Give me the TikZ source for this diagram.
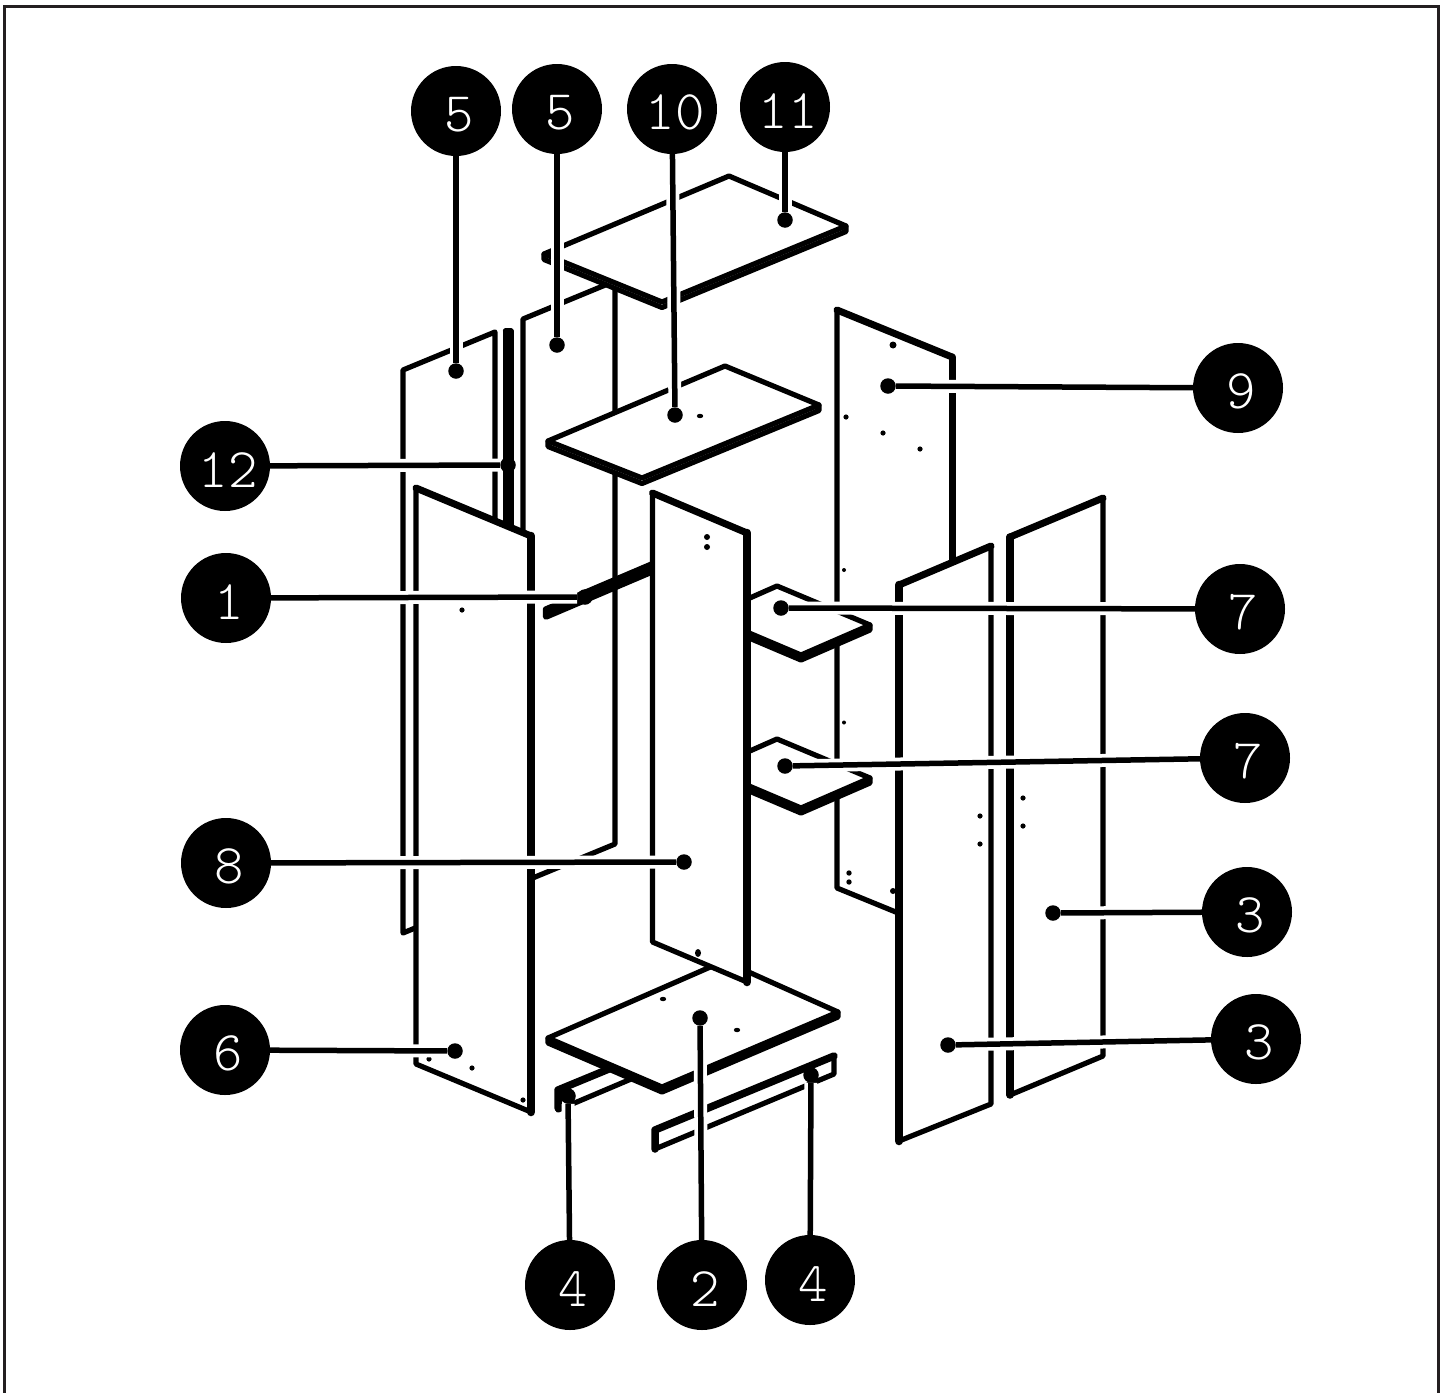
\documentclass[tikz,border=0pt]{standalone}
\usepackage{fontspec}
\setmonofont{Latin Modern Mono Light}
\usetikzlibrary{calc}
\definecolor{framecol}{HTML}{231F20}
\tikzset{
  edge/.style={line width=5.2pt,line cap=round,line join=round,black},
  heavy/.style={line width=7pt,line cap=round,line join=round,black},
  side/.style={line width=8.5pt,line cap=round,line join=round,black},
  bub/.style={circle,fill=black,minimum size=90pt,inner sep=0pt,text=white,text height=42pt,
    font=\ttfamily\fontsize{56pt}{56pt}\selectfont,execute at begin node={\hspace*{6pt}}},
  spot/.style={circle,fill=black,minimum size=15.5pt,inner sep=0pt},
  leader/.style={line width=5.5pt,black,preaction={draw=white,line width=13pt}},
}
% top, right, front, left vertices of upper face, thickness
\newcommand{\shelfbody}[5]{%
  \filldraw[edge,fill=white] (#1) -- (#2) -- ++(0,#5) -- ($(#3)+(0,#5)$) -- ($(#4)+(0,#5)$) -- (#4) -- cycle;
  \draw[edge] (#4) -- (#3) -- (#2);
}
\begin{document}
\begin{tikzpicture}[x=1pt,y=-1pt]
\useasboundingbox (0,0) rectangle (1448,1392);
\draw[framecol,line width=3pt] (4.5,1400) -- (4.5,6) -- (1438.5,6) -- (1438.5,1400);

% panel 5 (left)
\filldraw[edge,fill=white] (403,933) -- (403,370) -- (495,332) -- (495,895) -- cycle;
% strip 12
\draw[edge] (505.5,331) -- (505.5,540);
\draw[edge] (511,331) -- (511,540);
\draw[edge] (505.5,331) -- (511,331);
% panel 5 (right)
\filldraw[edge,fill=white] (523,882) -- (523,319) -- (615,281) -- (615,844) -- cycle;
% top shelf
\shelfbody{729,176}{846,226}{662,302}{544,254}{5.5}
% middle shelf
\shelfbody{725,366}{819,405}{642,478}{548,441}{5.5}
% panel 9
\filldraw[edge,fill=white] (837,888) -- (837,310) -- (952,357) -- (952,935) -- cycle;
\draw[heavy] (837,310) -- (952,357);
\draw[side,line width=7pt] (952,357) -- (952,600);
\fill (893,345) circle (3.5pt) (846,417) circle (2.6pt) (883,433) circle (2.6pt) (920,449) circle (2.6pt)
      (844,570) circle (2pt) (844,722.5) circle (2pt) (849,873) circle (2.7pt) (849,882) circle (2.7pt) (893,891) circle (3pt);
% small shelves 7
\shelfbody{777,586}{870,625}{801,655}{709,616}{5}
\shelfbody{777,739}{870,778}{801,808}{709,769}{5}
% rod 1
\filldraw[edge,line width=6.5pt,fill=white] (546,609.5) -- (660,561) -- (660,568) -- (546,616.5) -- cycle;
% bars 4
\filldraw[edge,fill=white] (558,1090) -- (650,1052) -- (650,1071) -- (558,1110) -- cycle;
\draw[heavy,line width=7.5pt] (558,1108) -- (558,1090) -- (650,1052);
\filldraw[edge,fill=white] (655,1130) -- (834,1056) -- (834,1074) -- (655,1149) -- cycle;
\draw[heavy,line width=7.5pt] (655,1149) -- (655,1130) -- (834,1056);
% bottom shelf
\shelfbody{724,961}{838,1012}{662,1087}{548,1038}{5}
\fill (663,999) ellipse (3.2pt and 2.2pt) (737,1030) ellipse (3.2pt and 2.2pt) (700,416) ellipse (3.2pt and 2.2pt);
% panel 8
\filldraw[edge,fill=white] (652.5,942) -- (652.5,493) -- (747,533) -- (747,982) -- cycle;
\draw[heavy] (652.5,493) -- (747,533);
\draw[side] (747,533) -- (747,982);
\fill (707,537) circle (3pt) (707,547) circle (3pt) (698,953) ellipse (3pt and 4pt);
% panel 6
\filldraw[edge,fill=white] (416,1064) -- (416,488) -- (531,536) -- (531,1112) -- cycle;
\draw[heavy] (416,488) -- (531,536);
\draw[side] (531,536) -- (531,1112);
\fill (462,610) circle (2.6pt) (429,1059) circle (2.6pt) (472,1068) circle (2.6pt) (523,1100) circle (2.6pt);
% panel 3 (near)
\filldraw[edge,fill=white] (899,1141) -- (899,585) -- (991,546) -- (991,1104) -- cycle;
\draw[heavy] (899,585) -- (991,546);
\draw[side] (899,585) -- (899,1141);
\fill (980,816) circle (2.6pt) (980,844) circle (2.6pt);
% panel 3 (far)
\filldraw[edge,fill=white] (1010,1095) -- (1010,537) -- (1103,498) -- (1103,1056) -- cycle;
\draw[heavy] (1010,537) -- (1103,498);
\draw[side,line width=7.5pt] (1010,537) -- (1010,1095);
\fill (1023,798) circle (2.6pt) (1023,826) circle (2.6pt);

% callouts
\node[bub] (b5a) at (456,111) {5};   \node[spot] (d5a) at (456,371) {};
\node[bub] (b5b) at (557,109) {5};   \node[spot] (d5b) at (557,345) {};
\node[bub] (b10) at (672,109) {10};  \node[spot] (d10) at (675,415) {};
\node[bub] (b11) at (785,107) {11};  \node[spot] (d11) at (785,220) {};
\node[bub] (b9) at (1238,388) {9};   \node[spot] (d9) at (888,386) {};
\node[bub] (b12) at (225,466) {12};  \node[spot] (d12) at (508,465) {};
\node[bub] (b1) at (226,598) {1};    \node[spot] (d1) at (585,597) {};
\node[bub] (b7a) at (1240,609) {7};  \node[spot] (d7a) at (781,608) {};
\node[bub] (b7b) at (1245,758) {7};  \node[spot] (d7b) at (785,766) {};
\node[bub] (b8) at (226,863) {8};    \node[spot] (d8) at (684,862) {};
\node[bub] (b3a) at (1247,912) {3};  \node[spot] (d3a) at (1053,913) {};
\node[bub] (b3b) at (1256,1039) {3}; \node[spot] (d3b) at (948,1045) {};
\node[bub] (b6) at (225,1050) {6};   \node[spot] (d6) at (455,1051) {};
\node[bub] (b4a) at (570,1285) {4};  \node[spot] (d4a) at (568,1096) {};
\node[bub] (b2) at (702,1285) {2};   \node[spot] (d2) at (700,1018) {};
\node[bub] (b4b) at (810,1280) {4};  \node[spot] (d4b) at (811,1075) {};
\foreach \n in {5a,5b,10,11,9,12,1,7a,7b,8,3a,3b,6,4a,2,4b}{
  \draw[leader] (b\n) -- (d\n);
}
\end{tikzpicture}
\end{document}
